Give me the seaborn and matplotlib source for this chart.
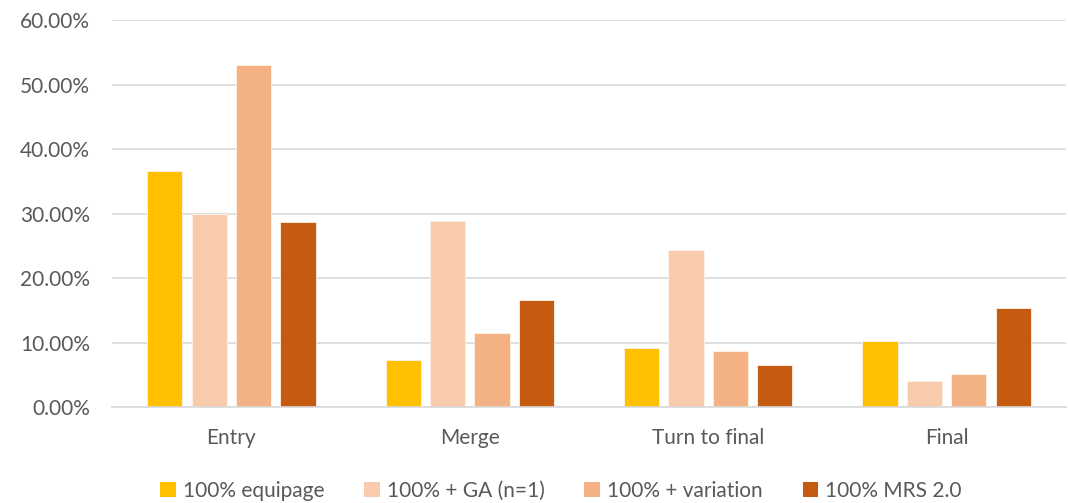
import matplotlib
matplotlib.use("Agg")
import matplotlib.pyplot as plt
import seaborn as sns
import pandas as pd
from matplotlib.ticker import FuncFormatter
from matplotlib.patches import Patch

categories = ["Entry", "Merge", "Turn to final", "Final"]
series_names = ["100% equipage", "100% + GA (n=1)", "100% + variation", "100% MRS 2.0"]
equipage = [0.366, 0.0732, 0.0918, 0.1026]
ga_n1 = [0.300, 0.289, 0.2435, 0.0407]
variation = [0.531, 0.115, 0.0877, 0.052]
mrs = [0.287, 0.167, 0.065, 0.1548]
colors = ["#FFC000", "#F8CBAD", "#F4B183", "#C55A11"]

rows = []
for name, vals in zip(series_names, [equipage, ga_n1, variation, mrs]):
    for c, v in zip(categories, vals):
        rows.append({"cat": c, "series": name, "value": v})
df = pd.DataFrame(rows)

sns.set_style("white")
plt.rcParams["font.family"] = ["Lato", "DejaVu Sans"]

fig = plt.figure(figsize=(10.68, 5.03), dpi=100)
ax = fig.add_axes([0.105, 0.19, 0.893, 0.77])
sns.barplot(data=df, x="cat", y="value", hue="series", order=categories,
            hue_order=series_names, palette=colors, saturation=1, width=0.745, gap=0.21,
            edgecolor="#FFF2E8", linewidth=0.6, ax=ax, legend=False)

ax.set_ylim(0, 0.60)
ax.set_yticks([i / 10 for i in range(7)])
ax.yaxis.set_major_formatter(FuncFormatter(lambda v, p: f"{v*100:.2f}%"))
ax.grid(axis="y", color="#D9D9D9", linewidth=1.2)
ax.set_axisbelow(True)
for s in ["top", "right", "left"]:
    ax.spines[s].set_visible(False)
ax.spines["bottom"].set_color("#D9D9D9")
ax.spines["bottom"].set_linewidth(1.2)
ax.tick_params(axis="both", length=0, labelsize=15, labelcolor="#595959")
ax.tick_params(axis="y", pad=16)
ax.tick_params(axis="x", pad=15)
ax.set_xlabel("")
ax.set_ylabel("")
ax.set_xlim(-0.5, 3.5)

handles = [Patch(facecolor=c, edgecolor="none") for c in colors]
fig.legend(handles, series_names, loc="center", bbox_to_anchor=(561 / 1068, 1 - 491 / 503),
           ncol=4, frameon=False, fontsize=15, labelcolor="#595959",
           handlelength=0.75, handleheight=0.75, handletextpad=0.35, columnspacing=1.9,
           borderpad=0, borderaxespad=0)

fig.savefig("out.png", dpi=100)
